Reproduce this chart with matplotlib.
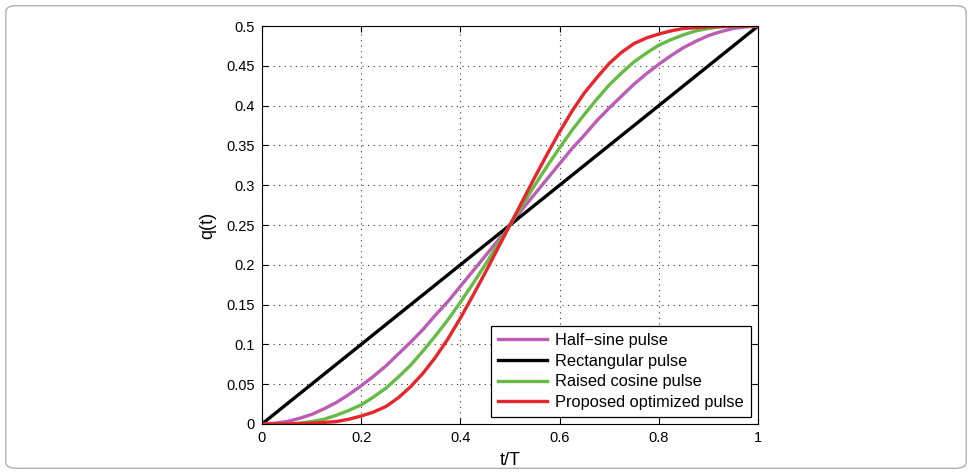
import matplotlib
matplotlib.use("Agg")
import matplotlib.pyplot as plt
from matplotlib.patches import FancyBboxPatch

plt.rcParams['font.family'] = ['Liberation Sans', 'DejaVu Sans']

# t/T sample points (0 to 1, step 0.025)
t = [0.000, 0.025, 0.050, 0.075, 0.100, 0.125, 0.150, 0.175, 0.200, 0.225,
     0.250, 0.275, 0.300, 0.325, 0.350, 0.375, 0.400, 0.425, 0.450, 0.475,
     0.500, 0.525, 0.550, 0.575, 0.600, 0.625, 0.650, 0.675, 0.700, 0.725,
     0.750, 0.775, 0.800, 0.825, 0.850, 0.875, 0.900, 0.925, 0.950, 0.975,
     1.000]

half_sine = [0.000, 0.001, 0.003, 0.007, 0.012, 0.019, 0.027, 0.037, 0.048, 0.060,
             0.073, 0.088, 0.103, 0.119, 0.137, 0.154, 0.173, 0.192, 0.211, 0.230,
             0.250, 0.270, 0.289, 0.308, 0.327, 0.346, 0.363, 0.381, 0.397, 0.412,
             0.427, 0.440, 0.452, 0.463, 0.473, 0.481, 0.488, 0.493, 0.497, 0.499,
             0.500]

rectangular = [0.000, 0.0125, 0.025, 0.0375, 0.050, 0.0625, 0.075, 0.0875, 0.100, 0.1125,
               0.125, 0.1375, 0.150, 0.1625, 0.175, 0.1875, 0.200, 0.2125, 0.225, 0.2375,
               0.250, 0.2625, 0.275, 0.2875, 0.300, 0.3125, 0.325, 0.3375, 0.350, 0.3625,
               0.375, 0.3875, 0.400, 0.4125, 0.425, 0.4375, 0.450, 0.4625, 0.475, 0.4875,
               0.500]

raised_cosine = [0.000, 0.000, 0.000, 0.001, 0.003, 0.006, 0.011, 0.017, 0.024, 0.034,
                 0.045, 0.059, 0.074, 0.092, 0.111, 0.131, 0.153, 0.176, 0.200, 0.225,
                 0.250, 0.275, 0.300, 0.324, 0.347, 0.369, 0.389, 0.408, 0.426, 0.441,
                 0.455, 0.466, 0.476, 0.483, 0.489, 0.494, 0.497, 0.499, 0.500, 0.500,
                 0.500]

optimized = [0.000, 0.000, 0.0002, 0.0005, 0.001, 0.002, 0.003, 0.006, 0.010, 0.015,
             0.022, 0.033, 0.047, 0.064, 0.084, 0.107, 0.133, 0.161, 0.190, 0.220,
             0.250, 0.280, 0.310, 0.339, 0.367, 0.393, 0.416, 0.435, 0.453, 0.467,
             0.478, 0.485, 0.490, 0.494, 0.497, 0.498, 0.499, 0.4995, 0.500, 0.500,
             0.500]

labels = ["Half\u2212sine pulse", "Rectangular pulse",
          "Raised cosine pulse", "Proposed optimized pulse"]
colors = ["#bb5cb5", "#000000", "#66bb44", "#e8242c"]

xticks = [0, 0.2, 0.4, 0.6, 0.8, 1]
xticklabels = ["0", "0.2", "0.4", "0.6", "0.8", "1"]
yticks = [0, 0.05, 0.1, 0.15, 0.2, 0.25, 0.3, 0.35, 0.4, 0.45, 0.5]
yticklabels = ["0", "0.05", "0.1", "0.15", "0.2", "0.25", "0.3", "0.35", "0.4", "0.45", "0.5"]

fig = plt.figure(figsize=(9.72, 4.74), dpi=100)
ax = fig.add_axes([0.2695, 0.1055, 0.5103, 0.8395])

series = [half_sine, rectangular, raised_cosine, optimized]
for y, lab, c in zip(series, labels, colors):
    ax.plot(t, y, color=c, linewidth=2.4, label=lab, solid_joinstyle='round')

ax.set_xlim(0, 1)
ax.set_ylim(0, 0.5)
ax.set_xticks(xticks)
ax.set_xticklabels(xticklabels)
ax.set_yticks(yticks)
ax.set_yticklabels(yticklabels)
ax.tick_params(direction='in', top=True, right=True, length=4, width=0.8,
               labelsize=10.5, pad=5)
ax.grid(True, linestyle=(0, (1, 4)), color='#333333', linewidth=0.8)
for s in ax.spines.values():
    s.set_linewidth(0.8)

ax.set_xlabel("t/T", fontsize=13, labelpad=5)
ax.set_ylabel("q(t)", fontsize=13, labelpad=7)

leg = ax.legend(loc='lower right', fontsize=11.8, fancybox=False, framealpha=1,
                edgecolor='black', borderaxespad=0.45, handlelength=3.0,
                handletextpad=0.5, labelspacing=0.35, borderpad=0.4)
leg.get_frame().set_linewidth(0.9)

border = FancyBboxPatch((0.006, 0.012), 0.988, 0.976,
                        boxstyle="round,pad=0,rounding_size=0.012",
                        transform=fig.transFigure, fill=False,
                        edgecolor='#b0b0b0', linewidth=1.0)
fig.patches.append(border)

fig.savefig("out.png", dpi=100)
